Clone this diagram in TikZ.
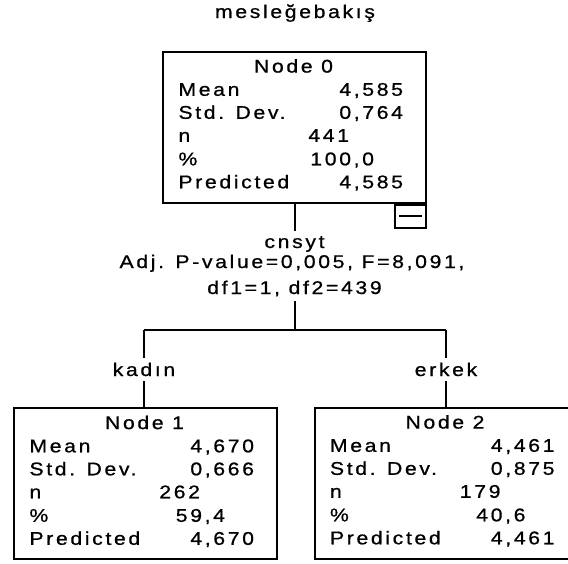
\documentclass[tikz,border=0pt]{standalone}
\usepackage{fontspec}
\newfontfamily\spssfont[FakeStretch=1.15,FakeBold=0.8,LetterSpace=14.5]{Liberation Sans}
\usetikzlibrary{positioning}

% one node of the tree: name, x, y, title, mean, sd, n, %, predicted
\newcommand{\statbox}[9]{%
  \node[box] (#1) at (#2,#3) {};
  \begin{scope}[shift={(#1.north west)}]
    \node[cell]                  (#1-title) at (131.5,15.5)  {#4};
    \node[cell,anchor=mid west]  (#1-meanl) at (15.5,41)     {Mean};
    \node[cell,anchor=mid east]  (#1-mean)  at (242,41)      {#5};
    \node[cell,anchor=mid west]  (#1-sdl)   at (15.5,64)     {Std. Dev.};
    \node[cell,anchor=mid east]  (#1-sd)    at (242,64)      {#6};
    \node[cell,anchor=mid west]  (#1-nl)    at (15.5,87)     {n};
    \node[cell,anchor=mid east]  (#1-n)     at (188,87)      {#7};
    \node[cell,anchor=mid west]  (#1-pctl)  at (15.5,110.5)  {\%};
    \node[cell,anchor=mid east]  (#1-pct)   at (213,110.5)   {#8};
    \node[cell,anchor=mid west]  (#1-predl) at (15.5,133.5)  {Predicted};
    \node[cell,anchor=mid east]  (#1-pred)  at (242,133.5)   {#9};
  \end{scope}}

\begin{document}
\begin{tikzpicture}[x=0.5pt, y=-0.5pt, line width=1pt, font=\spssfont\fontsize{9.2}{11}\selectfont]
        \tikzstyle{box}=[draw=black,rectangle,minimum width=131.5pt,minimum height=75.5pt,inner sep=0pt]
        \tikzstyle{cell}=[inner sep=0pt,text=black]
        \tikzstyle{lbl}=[inner sep=2pt,text=black]
        \tikzstyle{toggle}=[draw=black,rectangle,minimum width=15.5pt,minimum height=11.5pt,inner sep=0pt]
        \useasboundingbox (0,0) rectangle (568,563);
        \clip (0,0) rectangle (568,563);

        \node[lbl,anchor=base] (title) at (295,18) {mesleğebakış};

        \statbox{n0}{294.5}{127}{Node 0}{4,585}{0,764}{441}{100,0}{4,585}
        \node[toggle,anchor=north east] (n0-toggle) at (n0.south east) {};
        \draw ([xshift=2.5pt]n0-toggle.west) -- ([xshift=-2.5pt]n0-toggle.east);

        \node[lbl,anchor=base] (split)    at (294.5,248) {cnsyt};
        \node[lbl,anchor=base] (split-p)  at (292,268)   {Adj. P-value=0,005, F=8,091,};
        \node[lbl,anchor=base] (split-df) at (294.5,294) {df1=1, df2=439};

        \coordinate (j)  at (294.5,330);
        \coordinate (jl) at (144,330);
        \coordinate (jr) at (446,330);

        \node[lbl,anchor=base] (kadin) at (144,376) {kadın};
        \node[lbl,anchor=base] (erkek) at (446,376) {erkek};

        \statbox{n1}{145.5}{483.5}{Node 1}{4,670}{0,666}{262}{59,4}{4,670}
        \statbox{n2}{446}{483}{Node 2}{4,461}{0,875}{179}{40,6}{4,461}

        \draw (n0.south) -- (split.north);
        \draw (split-df.south) -- (j);
        \draw (jl) -- (jr);
        \draw (jl) -- (kadin.north);
        \draw (jr) -- (erkek.north);
        \draw (kadin.south) -- (kadin.south |- n1.north);
        \draw (erkek.south) -- (erkek.south |- n2.north);
    \end{tikzpicture}
\end{document}
